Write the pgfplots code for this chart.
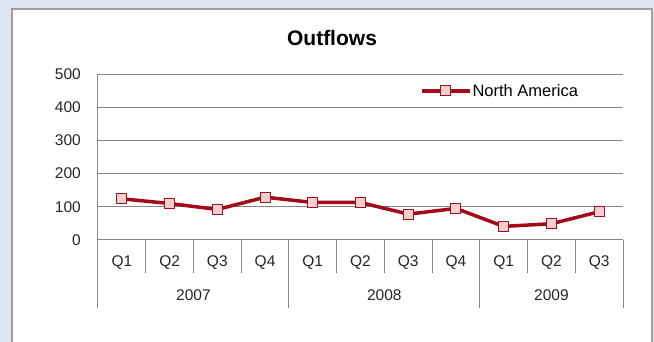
\documentclass[border=0pt]{standalone}
\usepackage{fontspec}
\setmainfont{Liberation Sans}
\usepackage{pgfplots}
\pgfplotsset{compat=1.18}
\definecolor{bgblue}{RGB}{220,229,241}
\definecolor{framegray}{RGB}{160,160,160}
\definecolor{gridgray}{RGB}{134,134,134}
\definecolor{linered}{RGB}{165,10,25}
\definecolor{markfill}{RGB}{245,205,205}
\definecolor{markedge}{RGB}{150,20,35}
\begin{document}
\begin{tikzpicture}[x=1pt,y=1pt]
\useasboundingbox (0,0) rectangle (654,342);
\fill[bgblue] (0,0) rectangle (654,342);
\fill[white] (12,0) rectangle (652,333);
\draw[framegray, line width=2pt] (12,-2) -- (12,333) -- (652,333) -- (652,-2);
\node[font=\fontsize{21}{24}\selectfont\bfseries] at (332,304) {Outflows};
\begin{axis}[
  at={(98pt,102pt)}, anchor=south west,
  width=525pt, height=166pt, scale only axis,
  xmin=0.5, xmax=11.5, ymin=0, ymax=500,
  ytick={0,100,...,500},
  xtick={1,...,11},
  xticklabels={Q1,Q2,Q3,Q4,Q1,Q2,Q3,Q4,Q1,Q2,Q3},
  ymajorgrids, grid style={gridgray, line width=1pt},
  axis line style={draw=none},
  major tick length=0pt,
  clip=false,
  /pgf/number format/assume math mode=true,
  ticklabel style={font=\fontsize{15.5}{18}\selectfont, text=black!85},
  yticklabel style={anchor=east, inner sep=0pt, xshift=-17pt},
  xticklabel style={anchor=center, inner sep=0pt, yshift=-23pt},
  legend style={at={(0.613,0.898)}, anchor=west, draw=none, fill=none,
    font=\fontsize{16.5}{19}\selectfont, inner sep=0pt,
    nodes={inner sep=1pt}},
  legend cell align=left,
  legend image code/.code={\draw[mark repeat=2,mark phase=2,#1] plot coordinates {(0pt,0pt)(24pt,0pt)(48pt,0pt)};},
]
\pgfplotsinvokeforeach{1.5,2.5,3.5,5.5,6.5,7.5,9.5,10.5}{
  \draw[gridgray, line width=1pt] (axis cs:#1,0) -- ([yshift=-33pt]axis cs:#1,0);
}
\pgfplotsinvokeforeach{4.5,8.5,11.5}{
  \draw[gridgray, line width=1pt] (axis cs:#1,0) -- ([yshift=-68pt]axis cs:#1,0);
}
\draw[gridgray, line width=1pt] (axis cs:0.5,500) -- ([yshift=-68pt]axis cs:0.5,0);
\node[font=\fontsize{15.5}{18}\selectfont, text=black!85] at ([yshift=-55pt]axis cs:2.5,0) {2007};
\node[font=\fontsize{15.5}{18}\selectfont, text=black!85] at ([yshift=-55pt]axis cs:6.5,0) {2008};
\node[font=\fontsize{15.5}{18}\selectfont, text=black!85] at ([yshift=-55pt]axis cs:10,0) {2009};
\addplot[linered, line width=3.5pt, mark=square*, mark size=5pt,
  mark options={fill=markfill, draw=markedge, line width=1pt}]
  coordinates {(1,124) (2,110) (3,92) (4,129) (5,113) (6,113) (7,78) (8,95) (9,41) (10,49) (11,85)};
\addlegendentry{North America}
\end{axis}
\end{tikzpicture}
\end{document}
